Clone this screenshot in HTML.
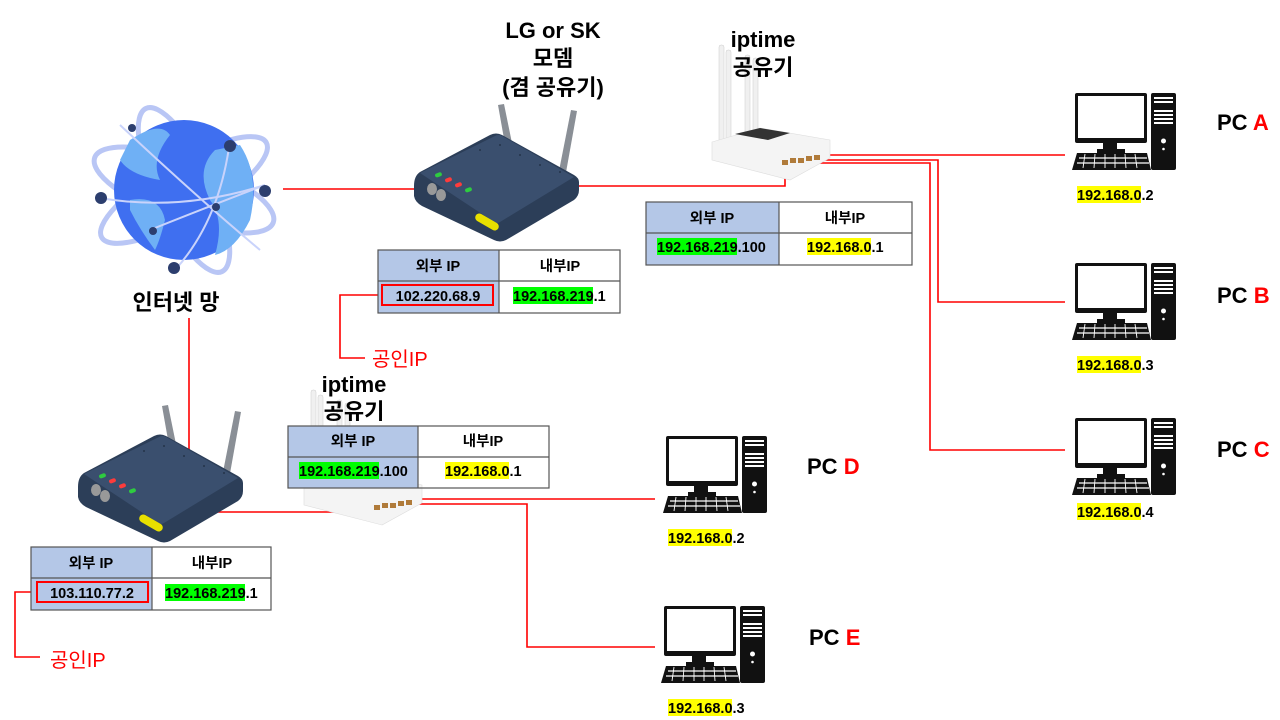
<!DOCTYPE html>
<html><head><meta charset="utf-8"><style>
html,body{margin:0;padding:0;background:#fff;width:1280px;height:720px;overflow:hidden}
svg text{font-family:"Liberation Sans","Noto Sans CJK KR",sans-serif}
</style></head><body>
<svg width="1280" height="720" viewBox="0 0 1280 720" xmlns="http://www.w3.org/2000/svg">
<defs>
<g id="modem">
  <polygon points="498,105 504,104 513,148 506,150" fill="#8a8f96"/>
  <polygon points="571,110 577,111 565,178 558,176" fill="#8a8f96"/>
  <path d="M420,172 Q414,176 414,186 L414,196 Q415,202 422,206 L494,240 Q500,243 506,240 L574,200 Q579,196 579,190 L579,182 Q579,178 574,175 L502,135 Q496,132 490,135 Z" fill="#2c3e58"/>
  <path d="M420,173 L495,136 Q498,134 502,136 L574,177 L500,222 Q497,224 494,222 Z" fill="#3a4f6e"/>
  <g fill="#24344a"><circle cx="480" cy="150" r="1"/><circle cx="500" cy="145" r="1"/><circle cx="520" cy="155" r="1"/><circle cx="540" cy="165" r="1"/><circle cx="560" cy="172" r="1"/></g>
  <ellipse cx="432" cy="189" rx="5" ry="6" fill="#999"/>
  <ellipse cx="441" cy="195" rx="5" ry="6" fill="#999"/>
  <rect x="435" y="173" width="7" height="4" rx="2" fill="#2ecc40" transform="rotate(-20 438 175)"/>
  <rect x="445" y="178" width="7" height="4" rx="2" fill="#ff3b3b" transform="rotate(-20 448 180)"/>
  <rect x="455" y="183" width="7" height="4" rx="2" fill="#ff3b3b" transform="rotate(-20 458 185)"/>
  <rect x="465" y="188" width="7" height="4" rx="2" fill="#2ecc40" transform="rotate(-20 468 190)"/>
  <rect x="474" y="218" width="26" height="8" rx="4" fill="#e8e000" transform="rotate(30 487 222)"/>
</g>
<g id="iptime">
  <rect x="719" y="45" width="5" height="115" rx="2" fill="#f0f0f0" stroke="#ccc" stroke-width="0.5"/>
  <rect x="726" y="50" width="5" height="112" rx="2" fill="#f0f0f0" stroke="#ccc" stroke-width="0.5"/>
  <rect x="745" y="55" width="5" height="110" rx="2" fill="#f0f0f0" stroke="#ccc" stroke-width="0.5"/>
  <rect x="753" y="58" width="5" height="108" rx="2" fill="#f0f0f0" stroke="#ccc" stroke-width="0.5"/>
  <polygon points="712,142 760,128 830,140 830,158 790,180 712,160" fill="#f4f4f4" stroke="#ddd" stroke-width="0.6"/>
  <polygon points="735,134 760,128 790,133 768,140" fill="#333"/>
  <g fill="#b07b3a"><rect x="782" y="160" width="6" height="5"/><rect x="790" y="158" width="6" height="5"/><rect x="798" y="158" width="6" height="5"/><rect x="806" y="156" width="6" height="5"/><rect x="814" y="155" width="6" height="5"/></g>
</g>
<g id="pc">
  <rect x="0" y="0" width="72" height="50" rx="2" fill="#111"/>
  <rect x="3" y="3" width="66" height="42" fill="#fff"/>
  <rect x="28" y="50" width="14" height="7" fill="#111"/>
  <rect x="22" y="56" width="28" height="4" fill="#111"/>
  <polygon points="2,60 72,60 76,77 -3,77" fill="#111"/>
  <g stroke="#fff" stroke-width="1.2"><line x1="4" y1="65" x2="72" y2="65"/><line x1="2" y1="70" x2="74" y2="70"/></g>
  <g stroke="#fff" stroke-width="0.9"><line x1="10" y1="61" x2="8" y2="75"/><line x1="20" y1="61" x2="19" y2="75"/><line x1="30" y1="61" x2="30" y2="75"/><line x1="40" y1="61" x2="40" y2="75"/><line x1="50" y1="61" x2="51" y2="75"/><line x1="60" y1="61" x2="62" y2="75"/></g>
  <rect x="76" y="0" width="25" height="77" rx="2" fill="#111"/>
  <g fill="#fff"><rect x="79" y="4" width="19" height="2"/><rect x="79" y="8" width="19" height="2"/><rect x="79" y="17" width="19" height="2"/><rect x="79" y="21" width="19" height="2"/><rect x="79" y="25" width="19" height="2"/><rect x="79" y="29" width="19" height="2"/><circle cx="88.5" cy="48" r="2.5"/><circle cx="88.5" cy="56" r="1.3"/></g>
</g>
</defs>

<g stroke="#ff0000" stroke-width="1.6" fill="none">
  <line x1="283" y1="189" x2="414" y2="189"/>
  <polyline points="578,186 785,186 785,165"/>
  <polyline points="818,155 1065,155"/>
  <polyline points="812,160 938,160 938,302 1065,302"/>
  <polyline points="806,163 930,163 930,450 1065,450"/>
  <line x1="189" y1="318" x2="189" y2="452"/>
  <polyline points="215,512 353,512 353,508"/>
  <line x1="410" y1="499" x2="655" y2="499"/>
  <polyline points="398,504 527,504 527,647 655,647"/>
  <polyline points="381,295 340,295 340,358 365,358"/>
  <polyline points="37,592 15,592 15,657 40,657"/>
</g>

<g>
  <ellipse cx="184" cy="190" rx="95" ry="30" fill="none" stroke="#b9c6f5" stroke-width="5" transform="rotate(20 184 190)"/>
  <ellipse cx="184" cy="190" rx="95" ry="28" fill="none" stroke="#b9c6f5" stroke-width="5" transform="rotate(-30 184 190)"/>
  <ellipse cx="184" cy="190" rx="90" ry="28" fill="none" stroke="#b9c6f5" stroke-width="5" transform="rotate(65 184 190)"/>
  <circle cx="184" cy="190" r="70" fill="#3f6ff0"/>
  <path d="M240,145 Q260,175 250,220 Q235,250 215,255 Q225,220 210,200 Q195,170 215,150 Z" fill="#6fb0f5"/>
  <path d="M130,140 Q160,120 170,135 Q150,160 160,180 Q130,175 120,160 Z" fill="#6fb0f5"/>
  <path d="M130,200 Q160,195 165,220 Q160,240 155,250 Q140,230 130,210 Z" fill="#6fb0f5"/>
  <g stroke="#c9d3fb" stroke-width="2" fill="none"><path d="M100,198 Q180,212 265,185"/><path d="M120,125 Q200,200 260,250"/><path d="M230,140 Q220,220 175,270"/><path d="M150,230 Q200,210 265,185"/></g>
  <g fill="#2c3e6e"><circle cx="101" cy="198" r="6"/><circle cx="132" cy="128" r="4"/><circle cx="230" cy="146" r="6"/><circle cx="265" cy="191" r="6"/><circle cx="216" cy="207" r="4"/><circle cx="153" cy="231" r="4"/><circle cx="174" cy="268" r="6"/></g>
</g>
<text x="176" y="310" font-size="22" font-weight="bold" text-anchor="middle">인터넷 망</text>

<use href="#modem"/>
<use href="#modem" transform="translate(-336,301)"/>
<use href="#iptime"/>
<use href="#iptime" transform="translate(-408,345)"/>
<use href="#pc" transform="translate(1075,93)"/>
<use href="#pc" transform="translate(1075,263)"/>
<use href="#pc" transform="translate(1075,418)"/>
<use href="#pc" transform="translate(666,436)"/>
<use href="#pc" transform="translate(664,606)"/>

<g font-size="22" font-weight="bold" text-anchor="middle">
  <text x="553" y="38">LG or SK</text>
  <text x="553" y="66">모뎀</text>
  <text x="553" y="95">(겸 공유기)</text>
  <text x="763" y="47">iptime</text>
  <text x="763" y="75">공유기</text>
  <text x="354" y="392">iptime</text>
  <text x="354" y="419">공유기</text>
</g>
<g font-size="22" font-weight="bold">
  <text x="1217" y="130">PC <tspan fill="#ff0000">A</tspan></text>
  <text x="1217" y="303">PC <tspan fill="#ff0000">B</tspan></text>
  <text x="1217" y="457">PC <tspan fill="#ff0000">C</tspan></text>
  <text x="807" y="474">PC <tspan fill="#ff0000">D</tspan></text>
  <text x="809" y="645">PC <tspan fill="#ff0000">E</tspan></text>
</g>

<g font-size="14.5" font-weight="bold">
  <rect x="1077" y="186" width="64" height="17" fill="#ffff00"/><text x="1077" y="200">192.168.0.2</text>
  <rect x="1077" y="356" width="64" height="17" fill="#ffff00"/><text x="1077" y="370">192.168.0.3</text>
  <rect x="1077" y="503" width="64" height="17" fill="#ffff00"/><text x="1077" y="517">192.168.0.4</text>
  <rect x="668" y="529" width="64" height="17" fill="#ffff00"/><text x="668" y="543">192.168.0.2</text>
  <rect x="668" y="699" width="64" height="17" fill="#ffff00"/><text x="668" y="713">192.168.0.3</text>
</g>

<g font-size="14.5" font-weight="bold" text-anchor="middle">
  <rect x="378" y="250" width="121" height="63" fill="#b4c7e7"/>
  <rect x="378" y="250" width="242" height="63" fill="none" stroke="#555" stroke-width="1.2"/>
  <line x1="378" y1="281" x2="620" y2="281" stroke="#555" stroke-width="1.2"/>
  <line x1="499" y1="250" x2="499" y2="313" stroke="#555" stroke-width="1.2"/>
  <text x="438" y="271">외부 IP</text><text x="560" y="271">내부IP</text>
  <rect x="382" y="285" width="111" height="20" fill="none" stroke="#ff0000" stroke-width="2"/>
  <text x="438" y="301">102.220.68.9</text>
  <rect x="513" y="287" width="80" height="17" fill="#00ff00"/>
  <text x="513" y="301" text-anchor="start">192.168.219.1</text>

  <rect x="646" y="202" width="133" height="63" fill="#b4c7e7"/>
  <rect x="646" y="202" width="266" height="63" fill="none" stroke="#555" stroke-width="1.2"/>
  <line x1="646" y1="233" x2="912" y2="233" stroke="#555" stroke-width="1.2"/>
  <line x1="779" y1="202" x2="779" y2="265" stroke="#555" stroke-width="1.2"/>
  <text x="712" y="223">외부 IP</text><text x="845" y="223">내부IP</text>
  <rect x="657" y="238" width="80" height="17" fill="#00ff00"/>
  <text x="657" y="252" text-anchor="start">192.168.219.100</text>
  <rect x="807" y="238" width="64" height="17" fill="#ffff00"/>
  <text x="807" y="252" text-anchor="start">192.168.0.1</text>

  <rect x="288" y="426" width="130" height="62" fill="#b4c7e7"/>
  <rect x="288" y="426" width="261" height="62" fill="none" stroke="#555" stroke-width="1.2"/>
  <line x1="288" y1="457" x2="549" y2="457" stroke="#555" stroke-width="1.2"/>
  <line x1="418" y1="426" x2="418" y2="488" stroke="#555" stroke-width="1.2"/>
  <text x="353" y="446">외부 IP</text><text x="483" y="446">내부IP</text>
  <rect x="299" y="462" width="80" height="17" fill="#00ff00"/>
  <text x="299" y="476" text-anchor="start">192.168.219.100</text>
  <rect x="445" y="462" width="64" height="17" fill="#ffff00"/>
  <text x="445" y="476" text-anchor="start">192.168.0.1</text>

  <rect x="31" y="547" width="121" height="63" fill="#b4c7e7"/>
  <rect x="31" y="547" width="240" height="63" fill="none" stroke="#555" stroke-width="1.2"/>
  <line x1="31" y1="578" x2="271" y2="578" stroke="#555" stroke-width="1.2"/>
  <line x1="152" y1="547" x2="152" y2="610" stroke="#555" stroke-width="1.2"/>
  <text x="91" y="568">외부 IP</text><text x="212" y="568">내부IP</text>
  <rect x="37" y="582" width="111" height="20" fill="none" stroke="#ff0000" stroke-width="2"/>
  <text x="92" y="598">103.110.77.2</text>
  <rect x="165" y="584" width="80" height="17" fill="#00ff00"/>
  <text x="165" y="598" text-anchor="start">192.168.219.1</text>
</g>

<g font-size="20" fill="#ff0000">
  <text x="372" y="366">공인IP</text>
  <text x="50" y="667">공인IP</text>
</g>
</svg>
</body></html>
